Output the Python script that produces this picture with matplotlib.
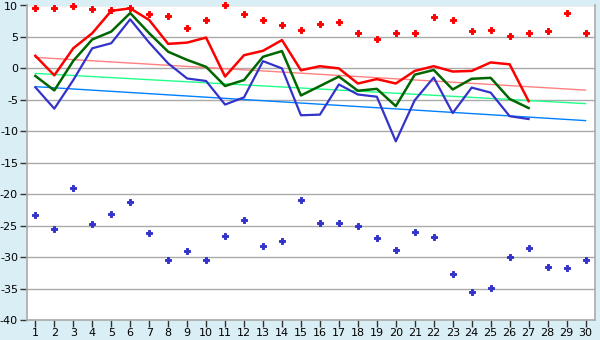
import matplotlib
matplotlib.use("Agg")
import matplotlib.pyplot as plt
import numpy as np

# ==========================================================
# DATA
# ==========================================================

days = list(range(1, 31))
line_days = list(range(1, 28))

red_line = [2.0, -1.1, 3.2, 5.6, 9.15, 9.55, 7.7, 3.9, 4.1, 4.9,
            -1.3, 2.1, 2.8, 4.5, -0.3, 0.35, 0.0, -2.4, -1.7, -2.4,
            -0.4, 0.35, -0.5, -0.4, 0.95, 0.65, -5.2]

green_line = [-1.2, -3.5, 1.2, 4.6, 5.85, 8.8, 5.6, 2.65, 1.35, 0.25,
              -2.8, -1.85, 1.85, 2.75, -4.3, -2.8, -1.3, -3.55, -3.25, -6.0,
              -1.0, -0.25, -3.35, -1.65, -1.5, -4.85, -6.3]

blue_line = [-3.0, -6.4, -1.85, 3.2, 4.0, 7.8, 4.1, 0.8, -1.6, -2.0,
             -5.75, -4.6, 1.15, 0.0, -7.45, -7.35, -2.55, -4.15, -4.5, -11.6,
             -5.05, -1.45, -7.1, -3.05, -3.85, -7.6, -8.05]

red_points = [9.6, 9.6, 9.9, 9.4, 9.3, 9.6, 8.6, 8.35, 6.5, 7.65,
              10.0, 8.6, 7.65, 6.85, 6.05, 7.0, 7.3, 5.6, 4.6, 5.6,
              5.6, 8.15, 7.65, 5.9, 6.05, 5.1, 5.6, 5.9, 8.8, 5.6]

blue_points = [-23.35, -25.6, -19.05, -24.8, -23.2, -21.3, -26.2, -30.5, -29.1, -30.5,
               -26.7, -24.15, -28.3, -27.5, -20.95, -24.5, -24.6, -25.1, -27.0, -28.9,
               -26.05, -26.85, -32.75, -35.5, -34.85, -30.05, -28.6, -31.65, -31.8, -30.5]

# trend lines: value at day 1 and day 30
trend_days = [1, 30]
red_trend = [1.75, -3.45]
green_trend = [-0.8, -5.6]
blue_trend = [-2.9, -8.3]

# ==========================================================
# PLOT
# ==========================================================

plt.rcParams["axes.unicode_minus"] = False

BG = "#daeef5"
GRID = "#aaaaaa"

fig = plt.figure(figsize=(6, 3.4), dpi=100, facecolor=BG)
ax = fig.add_axes([27/600, 1 - 320/340, (595 - 27)/600, (320 - 5.5)/340])
ax.set_facecolor("white")

ax.plot(trend_days, red_trend, color="#ff8080", linewidth=1, zorder=2)
ax.plot(trend_days, green_trend, color="#22ff88", linewidth=1, zorder=2)
ax.plot(trend_days, blue_trend, color="#0080ff", linewidth=1, zorder=2)

ax.plot(line_days, red_line, color="#ff0000", linewidth=1.8, zorder=3)
ax.plot(line_days, green_line, color="#006600", linewidth=1.8, zorder=3)
ax.plot(line_days, blue_line, color="#3333cc", linewidth=1.6, zorder=3)

ax.plot(days, red_points, linestyle="none", marker="P", markersize=5,
        color="#ff0000", markeredgewidth=0.7, zorder=4, clip_on=False)
ax.plot(days, blue_points, linestyle="none", marker="P", markersize=5,
        color="#3333cc", markeredgewidth=0.7, zorder=4, clip_on=False)

ax.set_xlim(0.56, 30.5)
ax.set_ylim(-40, 10)
ax.set_xticks(days)
ax.set_yticks(range(-40, 11, 5))

ax.grid(axis="y", color=GRID, linewidth=1)
ax.set_axisbelow(True)

for side in ["left", "bottom", "right"]:
    ax.spines[side].set_color(GRID)
    ax.spines[side].set_linewidth(1.2)
ax.spines["top"].set_visible(False)

ax.tick_params(axis="both", colors="#333333", labelcolor="black",
               labelsize=8, length=5, width=1)
ax.tick_params(axis="x", pad=1)
ax.tick_params(axis="y", pad=1.5)

fig.savefig("out.png", dpi=100, facecolor=BG)
